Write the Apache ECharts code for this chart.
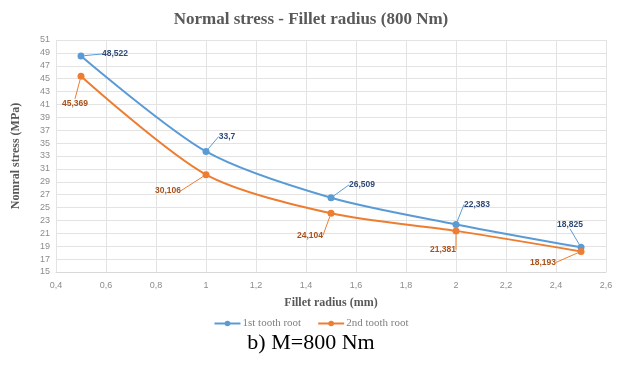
<!DOCTYPE html>
<html>
<head>
<meta charset="utf-8">
<script src="https://cdn.jsdelivr.net/npm/echarts@6/dist/echarts.min.js"></script>
<style>
  html, body { margin: 0; padding: 0; background: #fff; }
  #chart { width: 622px; height: 365px; }
</style>
</head>
<body>
<div id="chart"></div>
<script>
// fillet radius (mm)
const radius = [0.5, 1, 1.5, 2, 2.5];
// normal stress (MPa)
const firstRoot = [48.522, 33.7, 26.509, 22.383, 18.825];
const secondRoot = [45.369, 30.106, 24.104, 21.381, 18.193];
const seriesNames = ['1st tooth root', '2nd tooth root'];

// callout offsets from the point (px)
const offsets1 = [[34, -2], [21, -15], [31, -13], [21, -20], [-11, -23]];
const offsets2 = [[-6, 27], [-38, 16], [-21, 22], [-13, 19], [-38, 11]];

const comma = (v) => String(parseFloat(v.toFixed(3))).replace('.', ',');

const chart = echarts.init(document.getElementById('chart'));

const makeSeries = (name, values, color, labelColor, offsets) => ({
  name,
  type: 'line',
  data: radius.map((r, i) => [r, values[i]]),
  smooth: 0.28,
  symbol: 'circle',
  symbolSize: 7,
  lineStyle: { color, width: 2 },
  itemStyle: { color },
  label: {
    show: true,
    position: 'inside',
    formatter: (p) => comma(p.value[1]),
    color: labelColor,
    fontFamily: 'Liberation Sans',
    fontWeight: 'bold',
    fontSize: 8.5,
  },
  labelLine: { show: true, lineStyle: { color, width: 1 } },
  labelLayout: (p) => ({ dx: offsets[p.dataIndex][0], dy: offsets[p.dataIndex][1] }),
});

const option = {
  animation: false,
  backgroundColor: '#fff',
  title: {
    text: 'Normal stress - Fillet radius (800 Nm)',
    left: 'center',
    top: 6,
    textStyle: {
      fontFamily: 'Liberation Serif',
      fontWeight: 'bold',
      fontSize: 17,
      color: '#595959',
    },
  },
  graphic: [
    {
      type: 'text',
      left: 'center',
      top: 332,
      style: {
        text: 'b) M=800 Nm',
        font: '22px "Liberation Serif"',
        fill: '#000',
      },
    },
  ],
  legend: {
    bottom: 31,
    left: 'center',
    itemWidth: 26,
    itemHeight: 7,
    itemGap: 16,
    data: seriesNames,
    textStyle: { fontFamily: 'Liberation Serif', fontSize: 11, color: '#7f7f7f', padding: [0, 0, 0, -3] },
  },
  grid: { left: 56, right: 16, top: 40, bottom: 93 },
  xAxis: {
    type: 'value',
    min: 0.4,
    max: 2.6,
    interval: 0.2,
    name: 'Fillet radius (mm)',
    nameLocation: 'middle',
    nameGap: 25,
    nameTextStyle: { fontFamily: 'Liberation Serif', fontWeight: 'bold', fontSize: 12, color: '#595959' },
    axisLine: { show: true, lineStyle: { color: '#d9d9d9' } },
    axisTick: { show: false },
    axisLabel: {
      formatter: comma,
      fontFamily: 'Liberation Sans',
      fontSize: 9,
      color: '#8c8c8c',
      margin: 9,
    },
    splitLine: { show: true, lineStyle: { color: '#e3e3e3' } },
  },
  yAxis: {
    type: 'value',
    min: 15,
    max: 51,
    interval: 2,
    name: 'Nomral stress (MPa)',
    nameLocation: 'middle',
    nameGap: 34,
    nameTextStyle: { fontFamily: 'Liberation Serif', fontWeight: 'bold', fontSize: 12, color: '#595959' },
    axisLine: { show: false },
    axisTick: { show: false },
    axisLabel: {
      fontFamily: 'Liberation Sans',
      fontSize: 9,
      color: '#8c8c8c',
      margin: 6,
    },
    splitLine: { show: true, lineStyle: { color: '#e3e3e3' } },
  },
  series: [
    makeSeries(seriesNames[0], firstRoot, '#5b9bd5', '#2f4a78', offsets1),
    makeSeries(seriesNames[1], secondRoot, '#ed7d31', '#a8511a', offsets2),
  ],
};

chart.setOption(option);
</script>
</body>
</html>
